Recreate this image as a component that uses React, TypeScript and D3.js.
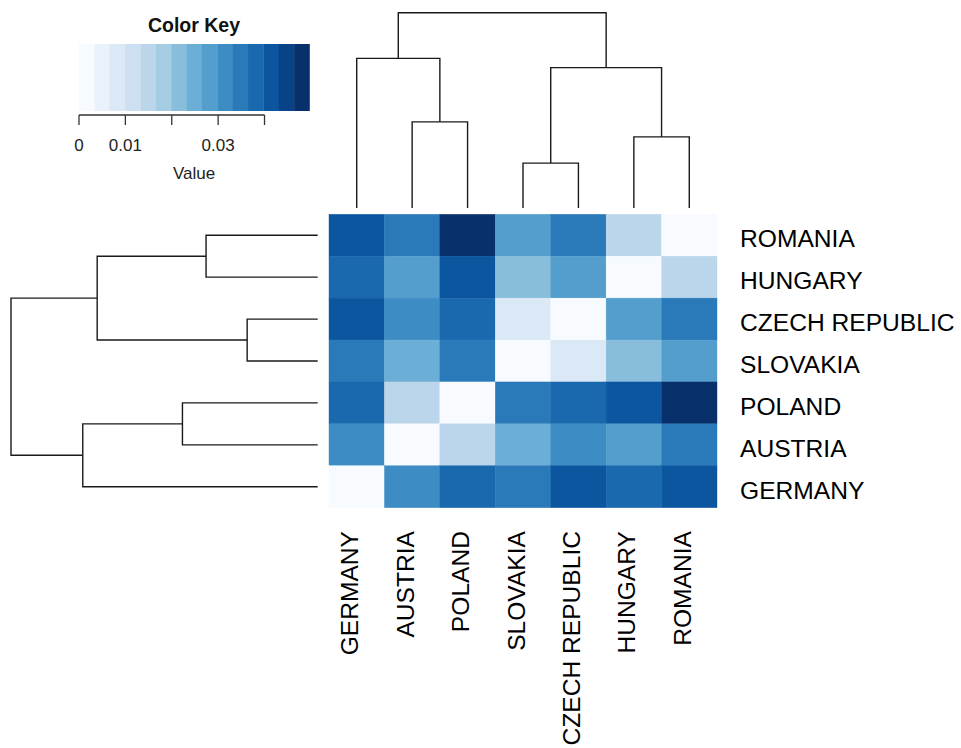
import { useEffect, useRef } from "react";
import * as d3 from "d3";

// countries in column order (left to right)
const countries = ["GERMANY", "AUSTRIA", "POLAND", "SLOVAKIA", "CZECH REPUBLIC", "HUNGARY", "ROMANIA"];
// rows are drawn top to bottom in the reverse order
const rowOrder = [...countries].reverse();

// symmetric distance matrix, same order as countries
const distances = [
  [0, 0.0316, 0.0382, 0.0348, 0.0416, 0.0379, 0.0414],
  [0.0316, 0, 0.0151, 0.0249, 0.0312, 0.0281, 0.0352],
  [0.0382, 0.0151, 0, 0.0347, 0.0383, 0.0418, 0.0497],
  [0.0348, 0.0249, 0.0347, 0, 0.0082, 0.0216, 0.0283],
  [0.0416, 0.0312, 0.0383, 0.0082, 0, 0.0279, 0.0349],
  [0.0379, 0.0281, 0.0418, 0.0216, 0.0279, 0, 0.0148],
  [0.0414, 0.0352, 0.0497, 0.0283, 0.0349, 0.0148, 0],
];

// clustering tree (same for rows and columns)
const tree = {
  height: 0.1,
  children: [
    { height: 0.0766, children: [{ name: "GERMANY" }, { height: 0.0441, children: [{ name: "AUSTRIA" }, { name: "POLAND" }] }] },
    {
      height: 0.0719,
      children: [
        { height: 0.023, children: [{ name: "SLOVAKIA" }, { name: "CZECH REPUBLIC" }] },
        { height: 0.0364, children: [{ name: "HUNGARY" }, { name: "ROMANIA" }] },
      ],
    },
  ],
};

const keyTicks = [0, 0.01, 0.02, 0.03, 0.04];
const keyTickLabels = ["0", "0.01", "", "0.03", ""];
const nBins = 15;

const FONT = "'Liberation Sans', Arial, Helvetica, sans-serif";

export default function App() {
  const svgRef = useRef<SVGSVGElement>(null);
  const width = 961;
  const height = 748;

  useEffect(() => {
    const svg = d3.select(svgRef.current);
    svg.selectAll("*").remove();
    svg.attr("font-family", FONT);

    const maxVal = d3.max(distances.flat()) as number;
    const blues = d3.piecewise(d3.interpolateRgb, d3.schemeBlues[9]);
    const colors = d3.range(nBins).map((i) => blues(i / (nBins - 1)));
    const color = d3.scaleQuantize<string>().domain([0, maxVal]).range(colors);

    const x = d3.scaleBand().domain(countries).range([329, 717]);
    const y = d3.scaleBand().domain(rowOrder).range([214.3, 507.7]);

    // heatmap cells
    const cells = rowOrder.flatMap((r) =>
      countries.map((c) => ({
        r,
        c,
        v: distances[countries.indexOf(r)][countries.indexOf(c)],
      }))
    );
    svg
      .append("g")
      .selectAll("rect")
      .data(cells)
      .join("rect")
      .attr("x", (d) => x(d.c)!)
      .attr("y", (d) => y(d.r)!)
      .attr("width", x.bandwidth())
      .attr("height", y.bandwidth())
      .attr("fill", (d) => color(d.v))
      .attr("stroke", (d) => color(d.v))
      .attr("stroke-width", 0.4);

    // row labels
    svg
      .append("g")
      .selectAll("text")
      .data(rowOrder)
      .join("text")
      .attr("x", 740)
      .attr("y", (d) => y(d)! + y.bandwidth() / 2 + 12)
      .attr("font-size", 24.6)
      .attr("fill", "#000")
      .text((d) => d);

    // column labels
    svg
      .append("g")
      .selectAll("text")
      .data(countries)
      .join("text")
      .attr("transform", (d) => `translate(${x(d)! + x.bandwidth() / 2 + 1.5},531) rotate(-90)`)
      .attr("text-anchor", "end")
      .attr("font-size", 24.6)
      .attr("fill", "#000")
      .text((d) => d);

    // dendrograms
    const root = d3.hierarchy<any>(tree);
    const rootH = tree.height;

    const drawDendro = (
      pos: (name: string) => number,
      hs: d3.ScaleLinear<number, number>,
      vertical: boolean
    ) => {
      const p = new Map<any, number>();
      root.eachAfter((n) => {
        if (!n.children) p.set(n, pos(n.data.name));
        else p.set(n, d3.mean(n.children, (c) => p.get(c)!) as number);
      });
      const h = (n: any) => hs(n.children ? n.data.height : 0);
      const paths: string[] = [];
      root.each((n) => {
        if (!n.children) return;
        const [a, b] = n.children;
        const pa = p.get(a)!, pb = p.get(b)!, hn = h(n);
        if (vertical) paths.push(`M${pa},${h(a)}V${hn}H${pb}V${h(b)}`);
        else paths.push(`M${h(a)},${pa}H${hn}V${pb}H${h(b)}`);
      });
      svg
        .append("g")
        .selectAll("path")
        .data(paths)
        .join("path")
        .attr("d", (d) => d)
        .attr("fill", "none")
        .attr("stroke", "#1a1a1a")
        .attr("stroke-width", 1.4);
    };

    drawDendro(
      (name) => x(name)! + x.bandwidth() / 2,
      d3.scaleLinear().domain([0, rootH]).range([208, 12.7]),
      true
    );
    drawDendro(
      (name) => y(name)! + y.bandwidth() / 2,
      d3.scaleLinear().domain([0, rootH]).range([317.7, 11]),
      false
    );

    // color key
    const kx = d3.scaleLinear().domain([0, maxVal]).range([79, 309.5]);
    const breaks = d3.range(nBins + 1).map((i) => (i * maxVal) / nBins);
    const key = svg.append("g");
    key
      .selectAll("rect")
      .data(d3.range(nBins))
      .join("rect")
      .attr("x", (i) => kx(breaks[i]))
      .attr("y", 44)
      .attr("width", (i) => kx(breaks[i + 1]) - kx(breaks[i]) + 0.3)
      .attr("height", 67)
      .attr("fill", (i) => colors[i]);

    key
      .append("line")
      .attr("x1", kx(keyTicks[0]))
      .attr("x2", kx(keyTicks[keyTicks.length - 1]))
      .attr("y1", 115)
      .attr("y2", 115)
      .attr("stroke", "#333")
      .attr("stroke-width", 1.3);
    key
      .selectAll("line.tick")
      .data(keyTicks)
      .join("line")
      .attr("class", "tick")
      .attr("x1", (d) => kx(d))
      .attr("x2", (d) => kx(d))
      .attr("y1", 115)
      .attr("y2", 125)
      .attr("stroke", "#333")
      .attr("stroke-width", 1.3);
    key
      .selectAll("text.tl")
      .data(keyTicks)
      .join("text")
      .attr("class", "tl")
      .attr("x", (d) => kx(d))
      .attr("y", 151)
      .attr("text-anchor", "middle")
      .attr("font-size", 17)
      .attr("fill", "#222")
      .text((_, i) => keyTickLabels[i]);

    key
      .append("text")
      .attr("x", 194)
      .attr("y", 179)
      .attr("text-anchor", "middle")
      .attr("font-size", 17)
      .attr("fill", "#222")
      .text("Value");
    key
      .append("text")
      .attr("x", 194)
      .attr("y", 32)
      .attr("text-anchor", "middle")
      .attr("font-size", 19.5)
      .attr("font-weight", "bold")
      .attr("fill", "#111")
      .text("Color Key");
  }, []);

  return (
    <svg
      ref={svgRef}
      width={width}
      height={height}
      style={{ position: "absolute", left: 0, top: 0, background: "#fff" }}
    ></svg>
  );
}
